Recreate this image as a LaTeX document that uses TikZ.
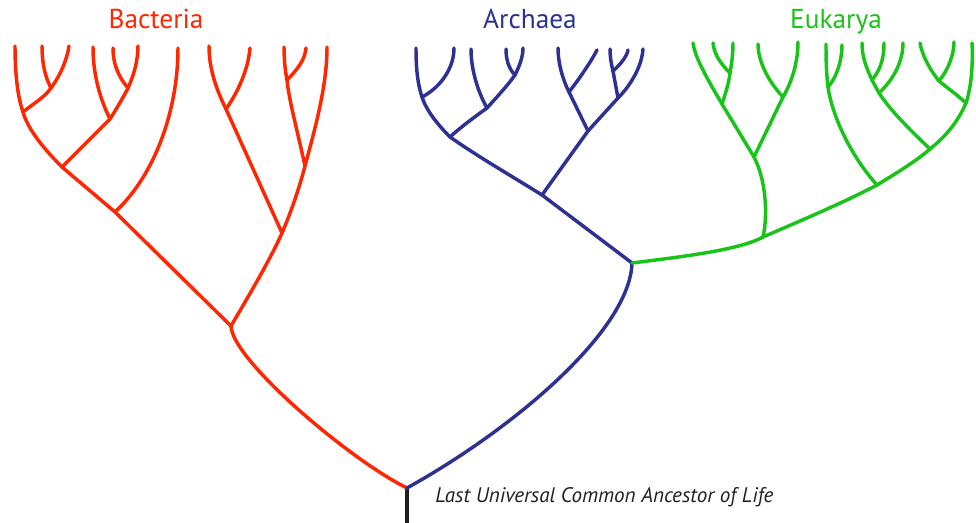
\documentclass[tikz,border=0pt]{standalone}
\usepackage{fontspec}
\setmainfont{PT Sans}
\definecolor{bact}{RGB}{255,38,0}
\definecolor{arch}{RGB}{46,49,146}
\definecolor{euk}{RGB}{24,196,24}
\definecolor{stem}{RGB}{35,31,32}
\newcommand\tbranch[4]{\draw (#1) .. controls (#2) and (#3) .. (#4);}
\begin{document}
\begin{tikzpicture}[x=0.75pt,y=-0.75pt,
  treeline/.style={line width=2.6pt,line cap=round,line join=round},
  grouplabel/.style={font=\fontsize{20.5}{22}\selectfont,anchor=base,inner sep=0pt}]
\useasboundingbox (0,0) rectangle (976,523);
% ---------- coordinates ----------
\coordinate (root) at (407,488);
\coordinate (stemend) at (407,523);
% bacteria
\coordinate (A) at (231,326);
\coordinate (B) at (115,212);
\coordinate (C) at (282,233);
\coordinate (D) at (62,167);
\coordinate (E) at (23,112);
\coordinate (F) at (110,119);
\coordinate (G) at (51,88);
\coordinate (H) at (128,88);
\coordinate (I) at (226,109);
\coordinate (J) at (305,166);
\coordinate (K) at (287,80);
\coordinate (b1) at (15,46);
\coordinate (b2) at (42,46);
\coordinate (b3) at (69,46);
\coordinate (b4) at (93,47);
\coordinate (b5) at (113,48);
\coordinate (b6) at (138,46);
\coordinate (b7) at (178,48);
\coordinate (b8) at (209,46);
\coordinate (b9) at (250,48);
\coordinate (b10) at (284,47);
\coordinate (b11) at (306,48);
\coordinate (b12) at (327,47);
% archaea
\coordinate (M) at (632,263);
\coordinate (N) at (542,195);
\coordinate (O) at (450,137);
\coordinate (P) at (588,131);
\coordinate (Q) at (422,97);
\coordinate (R) at (487,108);
\coordinate (S) at (515,75);
\coordinate (T) at (569,92);
\coordinate (U) at (618,98);
\coordinate (V) at (613,71);
\coordinate (a1) at (416,48);
\coordinate (a2) at (454,48);
\coordinate (a3) at (471,49);
\coordinate (a4) at (506,49);
\coordinate (a5) at (523,48);
\coordinate (a6) at (558,48);
\coordinate (a7) at (597,50);
\coordinate (a8) at (610,49);
\coordinate (a9) at (628,50);
\coordinate (a10) at (643,49);
% eukarya
\coordinate (W) at (763,237);
\coordinate (X) at (754,157);
\coordinate (Y) at (877,185);
\coordinate (Z) at (930,149);
\coordinate (AA) at (966,103);
\coordinate (BB) at (939,81);
\coordinate (CC) at (879,93);
\coordinate (DD) at (872,80);
\coordinate (EE) at (828,87);
\coordinate (FF) at (722,104);
\coordinate (GG) at (730,73);
\coordinate (HH) at (783,97);
\coordinate (e1) at (693,43);
\coordinate (e2) at (713,43);
\coordinate (e3) at (733,43);
\coordinate (e4) at (758,44);
\coordinate (e5) at (798,42);
\coordinate (e6) at (826,44);
\coordinate (e7) at (842,45);
\coordinate (e8) at (862,43);
\coordinate (e9) at (884,43);
\coordinate (e10) at (903,43);
\coordinate (e11) at (920,43);
\coordinate (e12) at (954,42);
\coordinate (e13) at (972,43);
% ---------- stem ----------
\draw[treeline,stem,line cap=butt] (root) -- (stemend);
% ---------- bacteria ----------
\begin{scope}[treeline,bact]
\tbranch{root}{350,460}{232,360}{A}
\draw (A) -- (B);
\tbranch{A}{248,297}{270,260}{C}
\draw (B) -- (D);
\tbranch{B}{155,175}{178,110}{b7}
\tbranch{D}{45,150}{28,130}{E}
\draw (D) -- (F);
\tbranch{E}{17,95}{15,70}{b1}
\tbranch{E}{33,104}{45,97}{G}
\tbranch{G}{44,75}{42,60}{b2}
\tbranch{G}{60,76}{67,60}{b3}
\tbranch{F}{98,95}{93,70}{b4}
\tbranch{F}{117,108}{124,96}{H}
\tbranch{H}{117,75}{113,62}{b5}
\tbranch{H}{134,75}{138,60}{b6}
\draw (C) -- (I);
\tbranch{I}{214,85}{209,65}{b8}
\tbranch{I}{238,92}{248,70}{b9}
\tbranch{C}{292,210}{300,185}{J}
\tbranch{J}{296,125}{289,100}{K}
\tbranch{K}{285,70}{284,58}{b10}
\tbranch{K}{297,70}{305,60}{b11}
\tbranch{J}{316,125}{327,85}{b12}
\end{scope}
% ---------- archaea ----------
\begin{scope}[treeline,arch]
\tbranch{root}{515,428}{630,330}{M}
\draw (M) -- (N);
\tbranch{N}{510,175}{480,158}{O}
\draw (N) -- (P);
\tbranch{O}{438,125}{426,110}{Q}
\tbranch{O}{462,126}{476,116}{R}
\tbranch{Q}{417,82}{416,65}{a1}
\tbranch{Q}{436,90}{454,72}{a2}
\tbranch{R}{478,92}{471,70}{a3}
\tbranch{R}{497,97}{508,85}{S}
\tbranch{S}{508,68}{506,58}{a4}
\tbranch{S}{520,65}{523,56}{a5}
\draw (P) -- (T);
\draw (P) -- (U);
\tbranch{T}{562,78}{558,62}{a6}
\tbranch{T}{580,78}{592,60}{a7}
\draw (U) -- (V);
\tbranch{U}{632,84}{642,65}{a10}
\tbranch{V}{611,63}{610,56}{a8}
\tbranch{V}{621,64}{627,56}{a9}
\end{scope}
% ---------- eukarya ----------
\begin{scope}[treeline,euk]
\tbranch{M}{680,257}{740,250}{W}
\tbranch{W}{768,215}{766,180}{X}
\tbranch{W}{800,221}{845,202}{Y}
\tbranch{Y}{895,174}{915,162}{Z}
\tbranch{Z}{945,137}{958,122}{AA}
\tbranch{AA}{972,85}{973,60}{e13}
\tbranch{AA}{955,93}{946,87}{BB}
\tbranch{BB}{930,70}{922,55}{e11}
\tbranch{BB}{948,70}{954,55}{e12}
\tbranch{Z}{910,130}{890,110}{CC}
\draw (CC) -- (DD);
\tbranch{DD}{865,65}{862,55}{e8}
\tbranch{DD}{882,68}{884,55}{e9}
\tbranch{CC}{895,78}{903,60}{e10}
\tbranch{Y}{850,155}{832,115}{EE}
\tbranch{EE}{826,70}{826,55}{e6}
\tbranch{EE}{837,77}{842,60}{e7}
\draw (X) -- (FF);
\tbranch{FF}{708,80}{695,58}{e1}
\tbranch{FF}{726,92}{729,82}{GG}
\tbranch{GG}{732,62}{733,52}{e3}
\tbranch{GG}{722,65}{714,55}{e2}
\draw (X) -- (HH);
\tbranch{HH}{793,80}{798,60}{e5}
\tbranch{HH}{767,80}{758,60}{e4}
\end{scope}
% ---------- labels ----------
\node[grouplabel,text=bact] (lblB) at (156,29) {Bacteria};
\node[grouplabel,text=arch] (lblA) at (530,29) {Archaea};
\node[grouplabel,text=euk] (lblE) at (836,29) {Eukarya};
\node[anchor=base west,inner sep=0pt,font=\fontsize{15.8}{17}\selectfont\itshape,text=stem] (luca) at (435,503) {Last Universal Common Ancestor of Life};
\end{tikzpicture}
\end{document}
